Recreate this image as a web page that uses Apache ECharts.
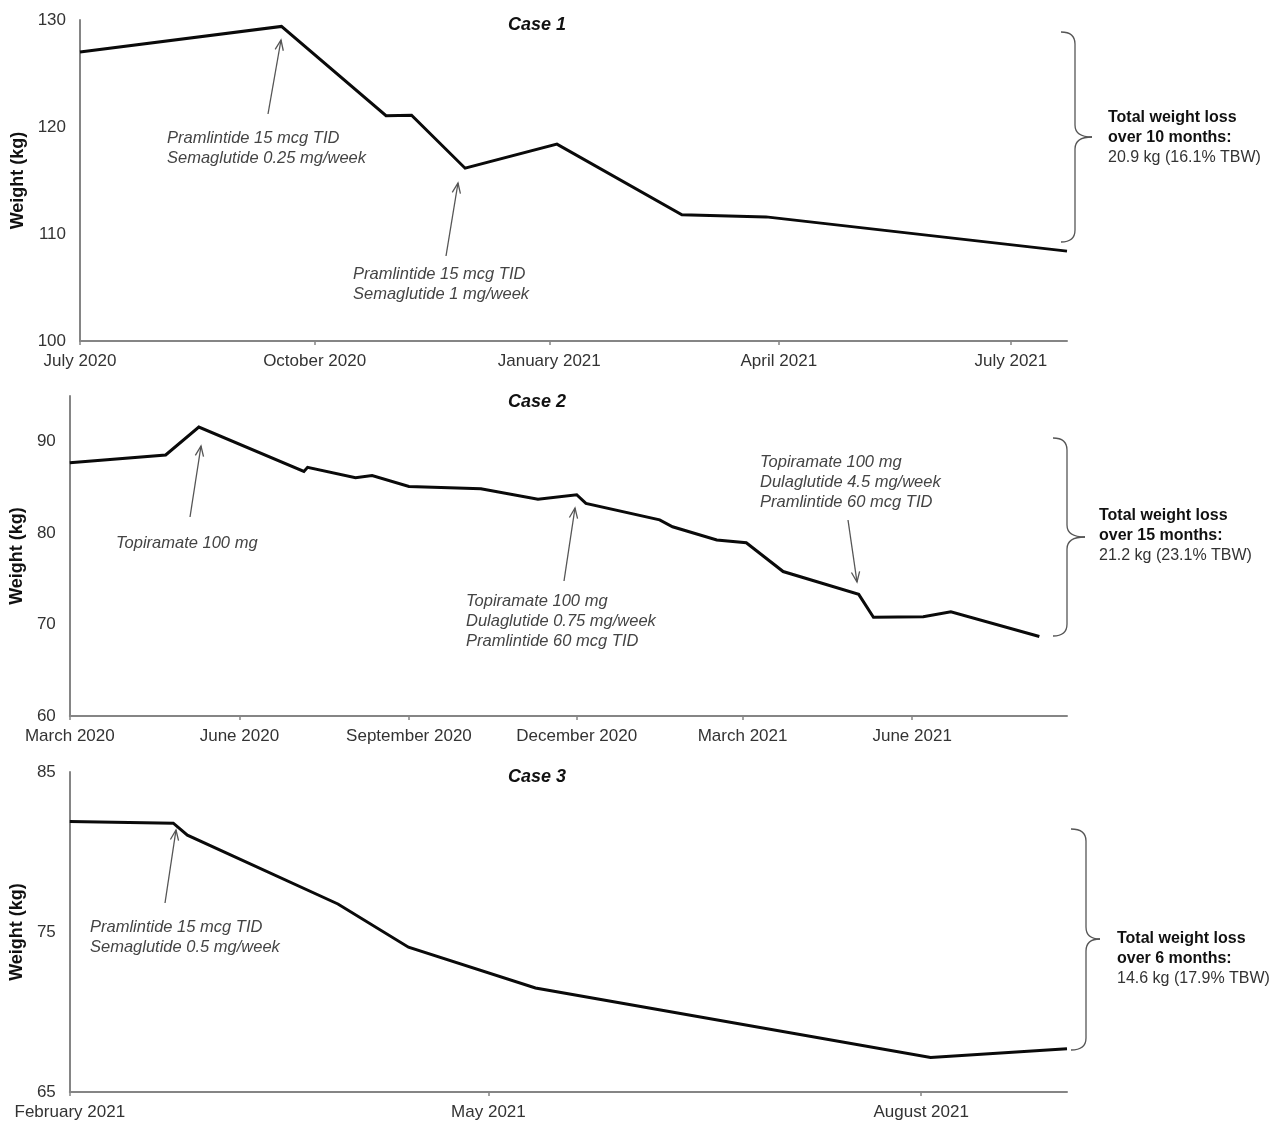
<!DOCTYPE html>
<html><head><meta charset="utf-8">
<script src="https://cdn.jsdelivr.net/npm/echarts@6/dist/echarts.min.js"></script>
<style>html,body{margin:0;padding:0;background:#fff}#c{width:1287px;height:1122px}</style>
</head><body><div id="c"></div>
<script>
// ---------- DATA ----------
const case1Dates   = ['2020-07-01','2020-09-18','2020-10-29','2020-11-08','2020-11-29','2021-01-04','2021-02-22','2021-03-27','2021-07-23'];
const case1Weights = [127.0,129.4,121.05,121.1,116.15,118.4,111.8,111.6,108.4];
const case1Ticks      = ['2020-07-01','2020-10-01','2021-01-01','2021-04-01','2021-07-01'];
const case1TickLabels = ['July 2020','October 2020','January 2021','April 2021','July 2021'];
const case1XRange = ['2020-07-01','2021-07-23'];
const case1YTicks = [100,110,120,130];

const case2Dates   = ['2020-03-01','2020-04-22','2020-05-10','2020-07-06','2020-07-08','2020-08-03','2020-08-12','2020-09-01','2020-10-10','2020-11-10','2020-12-01','2020-12-06','2021-01-15','2021-01-22','2021-02-15','2021-03-03','2021-03-23','2021-05-03','2021-05-11','2021-06-07','2021-06-22','2021-08-09'];
const case2Weights = [87.7,88.55,91.6,86.75,87.2,86.05,86.3,85.1,84.85,83.7,84.2,83.25,81.45,80.7,79.25,78.95,75.8,73.3,70.8,70.85,71.4,68.7];
const case2Ticks      = ['2020-03-01','2020-06-01','2020-09-01','2020-12-01','2021-03-01','2021-06-01'];
const case2TickLabels = ['March 2020','June 2020','September 2020','December 2020','March 2021','June 2021'];
const case2XRange = ['2020-03-01','2021-08-24'];
const case2YTicks = [60,70,80,90];
const case2YMax = 95;

const case3Dates   = ['2021-02-01','2021-02-23','2021-02-26','2021-03-30','2021-04-14','2021-05-11','2021-08-03','2021-09-01'];
const case3Weights = [81.9,81.8,81.05,76.75,74.05,71.5,67.15,67.7];
const case3Ticks      = ['2021-02-01','2021-05-01','2021-08-01'];
const case3TickLabels = ['February 2021','May 2021','August 2021'];
const case3XRange = ['2021-02-01','2021-09-01'];
const case3YTicks = [65,75,85];

const caseTitles = ['Case 1','Case 2','Case 3'];
const summaryLines = [
  ['Total weight loss','over 10 months:','20.9 kg (16.1% TBW)'],
  ['Total weight loss','over 15 months:','21.2 kg (23.1% TBW)'],
  ['Total weight loss','over 6 months:','14.6 kg (17.9% TBW)']
];
const noteTexts = [
  ['Pramlintide 15 mcg TID','Semaglutide 0.25 mg/week'],
  ['Pramlintide 15 mcg TID','Semaglutide 1 mg/week'],
  ['Topiramate 100 mg'],
  ['Topiramate 100 mg','Dulaglutide 0.75 mg/week','Pramlintide 60 mcg TID'],
  ['Topiramate 100 mg','Dulaglutide 4.5 mg/week','Pramlintide 60 mcg TID'],
  ['Pramlintide 15 mcg TID','Semaglutide 0.5 mg/week']
];

// ---------- HELPERS ----------
function ts(s){const p=s.split('-').map(Number);return Date.UTC(p[0],p[1]-1,p[2]);}
const FONT = '"Liberation Sans", Arial, sans-serif';
const AXIS_COLOR = '#858585';
const LABEL_COLOR = '#333';

const cases = [
  {dates:case1Dates, w:case1Weights, ticks:case1Ticks, labels:case1TickLabels, xr:case1XRange, yt:case1YTicks, ymin:100, ymax:130},
  {dates:case2Dates, w:case2Weights, ticks:case2Ticks, labels:case2TickLabels, xr:case2XRange, yt:case2YTicks, ymin:60, ymax:case2YMax},
  {dates:case3Dates, w:case3Weights, ticks:case3Ticks, labels:case3TickLabels, xr:case3XRange, yt:case3YTicks, ymin:65, ymax:85}
];
const grids = [
  {left:80, top:20, width:987, height:321},
  {left:69, top:396, width:998, height:320},
  {left:69, top:772, width:998, height:320}
];
const nameGaps = [51, 41, 41];

const xAxes = cases.map((c,i)=>{
  const tv = c.ticks.map(ts);
  return {
    type:'value', gridIndex:i, min:ts(c.xr[0]), max:ts(c.xr[1]),
    axisLine:{show:true,onZero:false,lineStyle:{color:AXIS_COLOR,width:2}},
    axisTick:{show:true,customValues:tv,length:4,lineStyle:{color:AXIS_COLOR,width:1.5}},
    axisLabel:{customValues:tv,color:LABEL_COLOR,fontSize:17,fontFamily:FONT,margin:12,
      formatter:(v)=>{const k=tv.indexOf(v);return k>=0?c.labels[k]:'';}},
    splitLine:{show:false}
  };
});
const yAxes = cases.map((c,i)=>({
  type:'value', gridIndex:i, min:c.ymin, max:c.ymax,
  name:'Weight (kg)', nameLocation:'middle', nameGap:nameGaps[i],
  nameTextStyle:{fontSize:18,fontWeight:'bold',color:'#111',fontFamily:FONT},
  axisLine:{show:true,onZero:false,lineStyle:{color:AXIS_COLOR,width:2}},
  axisTick:{show:false},
  axisLabel:{customValues:c.yt,color:LABEL_COLOR,fontSize:17,fontFamily:FONT,margin:14},
  splitLine:{show:false}
}));
const series = cases.map((c,i)=>({
  type:'line', xAxisIndex:i, yAxisIndex:i, showSymbol:false, silent:true,
  lineStyle:{color:'#0a0a0a',width:3,join:'miter'},
  data:c.dates.map((d,k)=>[ts(d),c.w[k]])
}));

// ---------- ANNOTATIONS (pixel layout) ----------
const graphics = [];
const ARROW_COLOR = '#555';
function arrow(tail, tip){
  const dx=tip[0]-tail[0], dy=tip[1]-tail[1], L=Math.hypot(dx,dy);
  const ux=dx/L, uy=dy/L, len=11, a=22*Math.PI/180;
  const r=(x,y,t)=>[x*Math.cos(t)-y*Math.sin(t), x*Math.sin(t)+y*Math.cos(t)];
  const v1=r(ux,uy,a), v2=r(ux,uy,-a);
  graphics.push({type:'line',silent:true,shape:{x1:tail[0],y1:tail[1],x2:tip[0],y2:tip[1]},style:{stroke:ARROW_COLOR,lineWidth:1.3}});
  graphics.push({type:'polyline',silent:true,shape:{points:[[tip[0]-len*v1[0],tip[1]-len*v1[1]],tip,[tip[0]-len*v2[0],tip[1]-len*v2[1]]]},style:{stroke:ARROW_COLOR,lineWidth:1.3,fill:null}});
}
function text(str,x,y,font,fill,align){
  graphics.push({type:'text',silent:true,style:{text:str,x:x,y:y,font:font,fill:fill,textAlign:align||'left',textVerticalAlign:'middle'}});
}
const BRACE_STYLE = {stroke:'#555',lineWidth:1.3,fill:null};
function curve(x1,y1,cx,cy,x2,y2){
  graphics.push({type:'bezierCurve',silent:true,shape:{x1:x1,y1:y1,x2:x2,y2:y2,cpx1:cx,cpy1:cy},style:BRACE_STYLE});
}
function seg(x1,y1,x2,y2){
  graphics.push({type:'line',silent:true,shape:{x1:x1,y1:y1,x2:x2,y2:y2},style:BRACE_STYLE});
}
function brace(x0,x1,x2,yT,yM,yB){
  const r=12;
  curve(x0,yT,x1,yT,x1,yT+r);
  seg(x1,yT+r,x1,yM-r);
  curve(x1,yM-r,x1,yM,x2,yM);
  curve(x2,yM,x1,yM,x1,yM+r);
  seg(x1,yM+r,x1,yB-r);
  curve(x1,yB-r,x1,yB,x0,yB);
}
const noteFont = 'italic 16.5px '+FONT, noteColor = '#444';
function note(lines,x,y){lines.forEach((s,k)=>text(s,x,y+20*k,noteFont,noteColor));}

// Case 1
arrow([268,114],[281,40]);   note(noteTexts[0],167,138);
arrow([446,256],[458,183]);  note(noteTexts[1],353,274);
// Case 2
arrow([190,517],[201,446]);  note(noteTexts[2],116,543);
arrow([564,581],[575,508]);  note(noteTexts[3],466,601);
arrow([848,520],[857,582]);  note(noteTexts[4],760,462);
// Case 3
arrow([165,903],[176,830]);  note(noteTexts[5],90,927);

// titles
const titleY = [25,402,777];
caseTitles.forEach((t,i)=>text(t,537,titleY[i],'italic bold 18px '+FONT,'#111','center'));

// braces + summary
const braceGeo = [[1061,1075,1092,32,137,242],[1053,1067,1085,438,537,636],[1071,1086,1100,829,939,1050]];
const sumPos = [[1108,118],[1099,516],[1117,939]];
braceGeo.forEach(g=>brace(...g));
summaryLines.forEach((ls,i)=>{
  const [x,y]=sumPos[i];
  text(ls[0],x,y,'bold 16px '+FONT,'#111');
  text(ls[1],x,y+20,'bold 16px '+FONT,'#111');
  text(ls[2],x,y+40,'16px '+FONT,'#333');
});

const chart = echarts.init(document.getElementById('c'),null,{renderer:'canvas'});
chart.setOption({
  animation:false,
  backgroundColor:'#fff',
  grid:grids, xAxis:xAxes, yAxis:yAxes, series:series,
  graphic:{elements:graphics}
});
</script></body></html>
